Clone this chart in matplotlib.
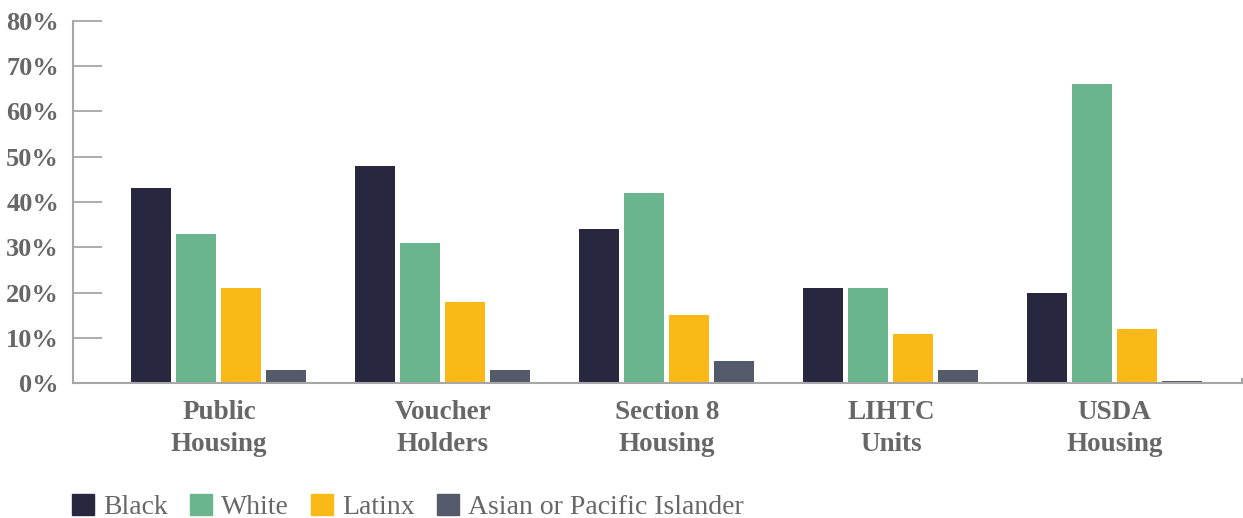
import numpy as np
import matplotlib.pyplot as plt
from matplotlib.patches import Rectangle

plt.rcParams['font.family'] = ['Liberation Serif', 'DejaVu Serif']

categories = ['Public\nHousing', 'Voucher\nHolders', 'Section 8\nHousing', 'LIHTC\nUnits', 'USDA\nHousing']
series = ['Black', 'White', 'Latinx', 'Asian or Pacific Islander']
black = [43, 48, 34, 21, 20]
white = [33, 31, 42, 21, 66]
latinx = [21, 18, 15, 11, 12]
asian = [3, 3, 5, 3, 0.5]
yticks = [0, 10, 20, 30, 40, 50, 60, 70, 80]

colors = ['#272840', '#6ab58e', '#fbb917', '#545a69']
text_col = '#676767'
axis_col = '#a6a6a6'

fig = plt.figure(figsize=(12.43, 5.18), dpi=100)
ax = fig.add_axes([0.0587, 0.2597, 0.9403, 0.7007])

x = np.arange(len(categories))
w = 0.1786
step = 0.2009
for i, vals in enumerate([black, white, latinx, asian]):
    ax.bar(x + (i - 1.5) * step, vals, width=w, color=colors[i], label=series[i], zorder=2)

ax.set_xlim(-0.652, 4.567)
ax.set_ylim(0, 80)
ax.set_yticks(yticks)
ax.set_yticklabels(['%d%%' % v for v in yticks], fontsize=19, fontweight='bold', color=text_col)
ax.set_xticks(x)
ax.set_xticklabels(categories, fontsize=19.5, fontweight='bold', color=text_col, linespacing=1.35)

ax.tick_params(axis='y', direction='in', length=21, width=1.3, color=axis_col, pad=10)
ax.tick_params(axis='x', length=0, pad=12)

for s in ['top', 'right']:
    ax.spines[s].set_visible(False)
for s in ['left', 'bottom']:
    ax.spines[s].set_color(axis_col)
    ax.spines[s].set_linewidth(1.5)
# little end tick on the right of the baseline
ax.plot([1, 1], [0, 0.012], transform=ax.transAxes, color=axis_col, lw=1.5, clip_on=False)

handles = [Rectangle((0, 0), 1, 1, color=c) for c in colors]
fig.legend(handles, series, loc='lower left', bbox_to_anchor=(0.058, -0.004), ncol=4,
           frameon=False, fontsize=20, handlelength=0.79, handleheight=0.79,
           handletextpad=0.33, columnspacing=0.8, borderpad=0, borderaxespad=0,
           labelcolor=text_col)

fig.savefig('out.png', dpi=100)
